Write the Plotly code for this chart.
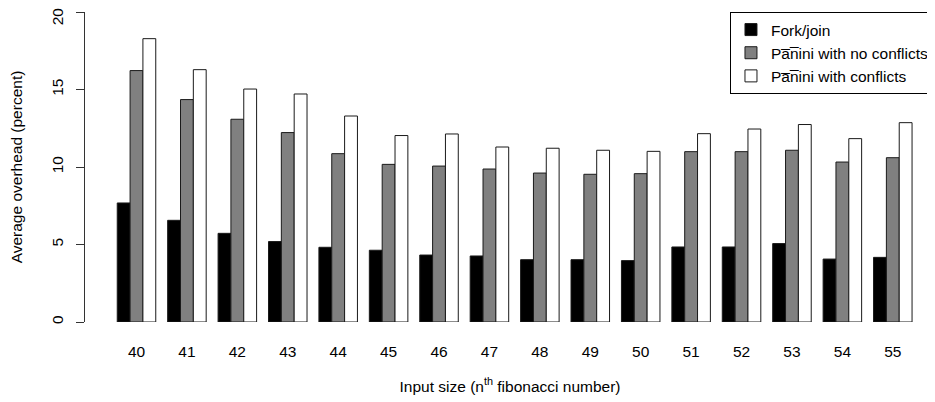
import plotly.graph_objects as go

categories = ["40", "41", "42", "43", "44", "45", "46", "47",
              "48", "49", "50", "51", "52", "53", "54", "55"]
fork_join = [7.68, 6.56, 5.72, 5.19, 4.82, 4.63, 4.32, 4.26,
             4.02, 4.02, 3.96, 4.84, 4.84, 5.06, 4.06, 4.17]
panini_no_conflicts = [16.22, 14.35, 13.08, 12.22, 10.86, 10.17, 10.06, 9.87,
                       9.61, 9.53, 9.57, 10.99, 10.99, 11.08, 10.32, 10.60]
panini_conflicts = [18.28, 16.28, 15.03, 14.71, 13.29, 12.03, 12.13, 11.29,
                    11.21, 11.08, 11.01, 12.15, 12.45, 12.74, 11.83, 12.86]
y_ticks = [0, 5, 10, 15]
y_top_tick = [20]

series = [
    ("Fork/join", fork_join, "#000000"),
    ("Pa\u0305n\u0305ini with no conflicts", panini_no_conflicts, "#808080"),
    ("Pa\u0305n\u0305ini with conflicts", panini_conflicts, "#ffffff"),
]

FONT = "Liberation Sans, Arial, Helvetica, sans-serif"
FS = 15.5

fig = go.Figure()
for name, vals, col in series:
    fig.add_trace(go.Bar(
        x=categories, y=vals, name=name,
        marker=dict(color=col, line=dict(color="#1a1a1a", width=1)),
    ))
# empty helper trace so the overlay axis carrying the top tick is drawn
fig.add_trace(go.Scatter(x=[], y=[], yaxis="y2", showlegend=False,
                         hoverinfo="skip", mode="markers"))

tick_style = dict(
    ticks="outside", ticklen=8, tickcolor="#333333", tickwidth=1,
    tickangle=-90, ticklabelstandoff=7,
    tickfont=dict(family=FONT, size=FS, color="black"),
    showgrid=False, zeroline=False,
)

# the page body adds an 8px offset, so the figure is 8px smaller and shifted
fig.update_layout(
    width=927, height=394,
    margin=dict(l=77, r=0, t=4, b=80, autoexpand=False),
    paper_bgcolor="white", plot_bgcolor="white",
    barmode="group", bargap=0.236, bargroupgap=0,
    font=dict(family=FONT, size=FS, color="black"),
    showlegend=True,
    legend=dict(
        x=0.7588, y=1.0, xanchor="left", yanchor="top",
        bordercolor="black", borderwidth=1, bgcolor="white",
        font=dict(family=FONT, size=FS, color="black"),
        tracegroupgap=0,
    ),
    xaxis=dict(
        type="category", range=[-1.0214, 15.837],
        showline=False, showgrid=False, zeroline=False,
        ticks="", ticklabelstandoff=18,
        tickfont=dict(family=FONT, size=FS, color="black"),
        title=dict(text="Input size (n<sup>th</sup> fibonacci number)",
                   font=dict(family=FONT, size=FS, color="black"), standoff=22),
    ),
    yaxis=dict(
        range=[0, 20], tickvals=y_ticks, ticktext=[str(v) for v in y_ticks],
        showline=True, linecolor="#333333", linewidth=1,
        title=dict(text="Average overhead (percent)",
                   font=dict(family=FONT, size=FS, color="black"), standoff=30),
        **tick_style,
    ),
    yaxis2=dict(
        overlaying="y", side="left", anchor="x",
        range=[0, 20], tickvals=y_top_tick, ticktext=[str(v) for v in y_top_tick],
        showline=False, ticklabelshift=7, ticklabeloverflow="allow",
        **tick_style,
    ),
)

fig.write_html("out.html")
